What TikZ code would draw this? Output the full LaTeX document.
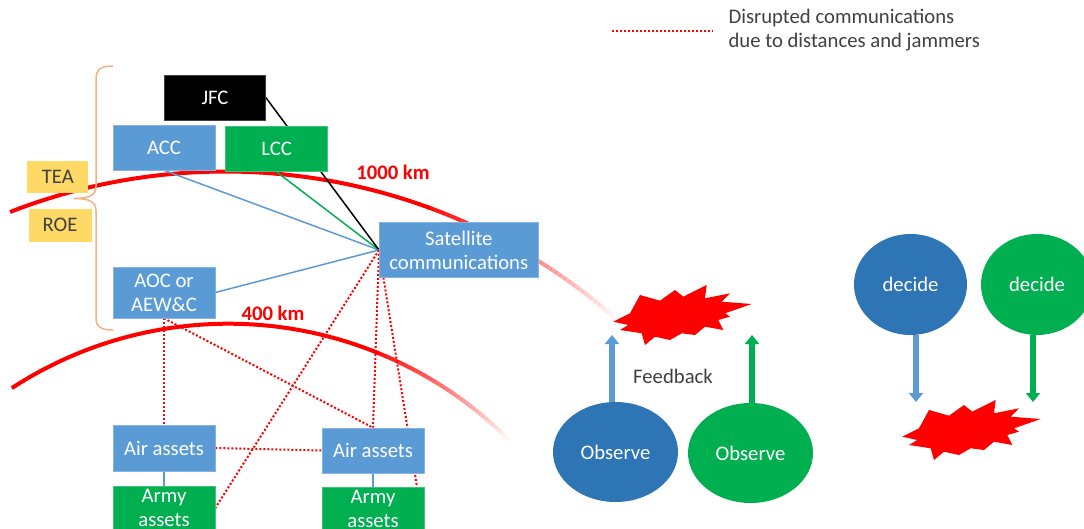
\documentclass[tikz,border=0pt]{standalone}
\usepackage{fontspec}
\setmainfont{Carlito}
\usetikzlibrary{shapes.geometric,arrows.meta,calc}

\definecolor{boxblue}{HTML}{5B9BD5}
\definecolor{deepblue}{HTML}{2E75B6}
\definecolor{boxgreen}{HTML}{00B050}
\definecolor{boxyellow}{HTML}{FFD966}
\definecolor{braceorange}{HTML}{F4B183}
\definecolor{alarm}{HTML}{FF0000}
\definecolor{inktext}{HTML}{404040}

\pgfdeclarelayer{arcs}
\pgfdeclarelayer{links}
\pgfsetlayers{arcs,links,main}

\tikzset{
  box/.style={rectangle, inner sep=0pt, align=center, text=white,
              fill=#1, draw=#1!75!white, line width=0.6pt},
  yellowtag/.style={rectangle, inner sep=0pt, align=center, text=inktext,
              fill=boxyellow},
  blob/.style={ellipse, inner sep=0pt, text=white, fill=#1},
  solidlink/.style={line width=1.5pt, draw=#1},
  jammed/.style={draw=alarm, line width=2pt, dash pattern=on 2pt off 2pt},
  blockarrow/.style={line width=6pt, draw=#1,
              -{Triangle[width=14pt,length=9pt,fill=#1]}},
  distlabel/.style={text=alarm, font=\fontsize{20.7}{24}\selectfont\bfseries},
  burst/.pic={
    \fill[alarm] (-66.7,6.7) -- (-50,-1.7) -- (-40,-20) -- (-20,-14.3)
      -- (-5,-25) -- (3.3,-18.3) -- (26.7,-30) -- (25,-16.7) -- (50,-21.7)
      -- (41.7,-13.3) -- (71.7,-11) -- (45,-1.7) -- (50,1.7) -- (38.3,5)
      -- (43.3,15) -- (25,11.7) -- (15,20) -- (1.7,18.3) -- (-10,25)
      -- (-25,21.7) -- (-35,30) -- (-38.3,18.3) -- (-60,15) -- (-51.7,10)
      -- cycle;
  }
}

\begin{document}
\begin{tikzpicture}[x=1pt, y=-1pt, font=\fontsize{20.7}{24}\selectfont]
\useasboundingbox (0,0) rectangle (1084,529);

% ---------- range arcs (solid part, then a fading tail) ----------
\begin{pgfonlayer}{arcs}
  \draw[alarm, line width=4pt]
    plot[domain=111.3:69.8, samples=90, smooth]
      ({225.3+592.4*cos(\x)},{763.9-592.4*sin(\x)});
  \foreach \i in {0,...,39}{
    \pgfmathsetmacro\ta{70-\i*0.535}
    \pgfmathsetmacro\tb{\ta-0.56}
    \pgfmathsetmacro\op{0.95*(1-\i/40)}
    \draw[alarm, line width=4pt, draw opacity=\op]
      ({225.3+592.4*cos(\ta)},{763.9-592.4*sin(\ta)}) --
      ({225.3+592.4*cos(\tb)},{763.9-592.4*sin(\tb)});
  }
  \draw[alarm, line width=4pt]
    plot[domain=123.1:67.8, samples=90, smooth]
      ({228.5+396.8*cos(\x)},{720.5-396.8*sin(\x)});
  \foreach \i in {0,...,39}{
    \pgfmathsetmacro\ta{68-\i*0.58}
    \pgfmathsetmacro\tb{\ta-0.6}
    \pgfmathsetmacro\op{0.95*(1-\i/40)}
    \draw[alarm, line width=4pt, draw opacity=\op]
      ({228.5+396.8*cos(\ta)},{720.5-396.8*sin(\ta)}) --
      ({228.5+396.8*cos(\tb)},{720.5-396.8*sin(\tb)});
  }
\end{pgfonlayer}

\node[distlabel] (r1000) at (393,172) {1000 km};
\node[distlabel] (r400) at (273,313) {400 km};

% ---------- command boxes ----------
\node[box=black, minimum width=101, minimum height=45] (JFC) at (215,97.5) {JFC};
\node[box=boxblue, minimum width=102, minimum height=45] (ACC) at (164,147.5) {ACC};
\node[box=boxgreen, minimum width=102, minimum height=45] (LCC) at (276.7,149.2) {LCC};
\node[box=boxblue, minimum width=159, minimum height=55] (Sat) at (458.8,250)
  {Satellite\\communications};
\node[box=boxblue, minimum width=102, minimum height=51] (AOC) at (164,292.5)
  {AOC or\\AEW\&C};

\node[yellowtag, minimum width=61, minimum height=32] (TEA) at (57.8,176.7) {TEA};
\node[yellowtag, minimum width=63, minimum height=33] (ROE) at (60,225.3) {ROE};

% ---------- assets ----------
\node[box=boxblue, minimum width=102, minimum height=46] (AirL) at (164,448) {Air assets};
\node[box=boxblue, minimum width=102, minimum height=45] (AirR) at (373,450.5) {Air assets};
\node[box=boxgreen, minimum width=102, minimum height=44] (ArmyL) at (164,508) {Army\\assets};
\node[box=boxgreen, minimum width=102, minimum height=44] (ArmyR) at (373,509) {Army\\assets};

% ---------- brace grouping the command level ----------
\draw[braceorange, line width=1.5pt]
  (113,66) .. controls (101,66) and (96,69) .. (96,80) -- (96,186)
  .. controls (96,195) and (90,198.5) .. (74,198.5)
  .. controls (90,198.5) and (96,202) .. (96,211) -- (96,318)
  .. controls (96,327) and (101,330) .. (113,330);

% ---------- links ----------
\coordinate (armyRtop) at (417,487);
\begin{pgfonlayer}{links}
  \draw[solidlink=boxblue] (ACC.south) -- (Sat.west);
  \draw[solidlink=boxgreen] (LCC.south) -- (Sat.west);
  \draw[solidlink=black] (JFC.east) -- (Sat.west);
  \draw[solidlink=boxblue] (AOC.east) -- (Sat.west);
  \draw[solidlink=boxblue] (AirL.south) -- (ArmyL.north);
  \draw[solidlink=boxblue] (AirR.south) -- (ArmyR.north);

  \draw[jammed] (AOC.south) -- (AirL.north);
  \draw[jammed] (AOC.south) -- (AirR.north);
  \draw[jammed] (Sat.west) -- (ArmyL.east);
  \draw[jammed] (Sat.west) -- (AirR.north);
  \draw[jammed] (Sat.west) -- (armyRtop);
  \draw[jammed] (AirL.east) -- (AirR.west);
\end{pgfonlayer}

% ---------- legend ----------
\coordinate (legA) at (612,31);
\coordinate (legB) at (713,31);
\draw[jammed] (legA) -- (legB);
\node[anchor=west, align=left, text=inktext] (legtxt) at (725,30)
  {Disrupted communications\\due to distances and jammers};

% ---------- OODA side ----------
\pic at (680,315) {burst};
\pic at (969,430) {burst};

\node[blob=deepblue, minimum width=125, minimum height=100] (ObsB) at (615.5,452) {Observe};
\node[blob=boxgreen, minimum width=125, minimum height=100] (ObsG) at (750.5,453) {Observe};
\node[blob=deepblue, minimum width=113, minimum height=101] (DecB) at (910.5,284.5) {decide};
\node[blob=boxgreen, minimum width=112, minimum height=101] (DecG) at (1037,284.5) {decide};

\node[text=inktext] (fb) at (673,376) {Feedback};

\coordinate (upB) at (612,335);
\coordinate (upG) at (752,335);
\coordinate (dnB) at (916,402);
\coordinate (dnG) at (1033,402);
\draw[blockarrow=boxblue] (ObsB.north -| upB) -- (upB);
\draw[blockarrow=boxgreen] (ObsG.north -| upG) -- (upG);
\draw[blockarrow=boxblue] (DecB.south -| dnB) -- (dnB);
\draw[blockarrow=boxgreen] (DecG.south -| dnG) -- (dnG);
\end{tikzpicture}
\end{document}
